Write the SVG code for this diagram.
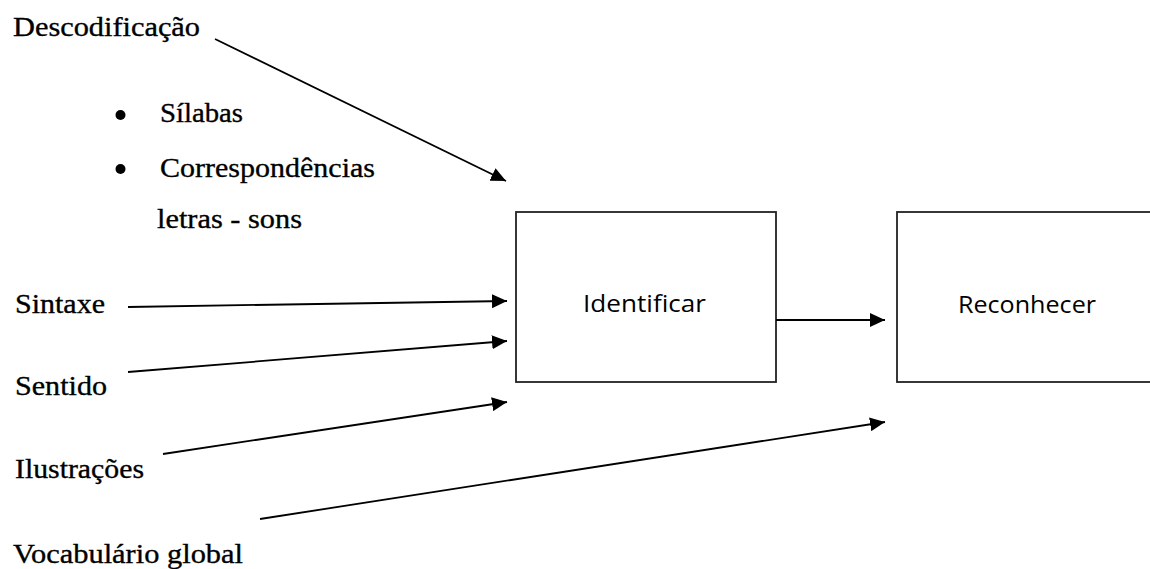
<svg xmlns="http://www.w3.org/2000/svg" width="1150" height="569" viewBox="0 0 1150 569">
  <defs>
    <marker id="arrow" markerUnits="userSpaceOnUse" markerWidth="16" markerHeight="14" refX="15" refY="7" orient="auto">
      <path d="M0,0 L15,7 L0,14 Z" fill="#000"/>
    </marker>
  </defs>
  <style>
    .lbl { font-family: "Liberation Serif", "Times New Roman", serif; font-size: 28px; fill: #000; stroke: #000; stroke-width: 0.35; }
    .box { fill: #fff; stroke: #222; stroke-width: 1.8; }
    .boxtxt { font-family: "Open Sans", "Liberation Sans", sans-serif; font-size: 23px; fill: #000; }
    .conn { stroke: #000; stroke-width: 1.8; fill: none; marker-end: url(#arrow); }
  </style>
  <rect width="1150" height="569" fill="#fff"/>

  <g id="descodificacao">
    <text class="lbl" x="13" y="36" textLength="187" lengthAdjust="spacingAndGlyphs">Descodificação</text>
    <circle cx="120.5" cy="115" r="5" fill="#000"/>
    <text class="lbl" x="160" y="122" textLength="83" lengthAdjust="spacingAndGlyphs">Sílabas</text>
    <circle cx="120.5" cy="169" r="5" fill="#000"/>
    <text class="lbl" x="160" y="177" textLength="215" lengthAdjust="spacingAndGlyphs">Correspondências</text>
    <text class="lbl" x="157" y="228" textLength="145" lengthAdjust="spacingAndGlyphs">letras - sons</text>
  </g>
  <g id="sintaxe">
    <text class="lbl" x="15" y="313" textLength="90" lengthAdjust="spacingAndGlyphs">Sintaxe</text>
  </g>
  <g id="sentido">
    <text class="lbl" x="15" y="395" textLength="92" lengthAdjust="spacingAndGlyphs">Sentido</text>
  </g>
  <g id="ilustracoes">
    <text class="lbl" x="15" y="478" textLength="129" lengthAdjust="spacingAndGlyphs">Ilustrações</text>
  </g>
  <g id="vocabulario">
    <text class="lbl" x="13" y="563" textLength="230" lengthAdjust="spacingAndGlyphs">Vocabulário global</text>
  </g>

  <g id="identificar">
    <rect class="box" x="516" y="212" width="260" height="170"/>
    <text class="boxtxt" x="583" y="312" textLength="123" lengthAdjust="spacingAndGlyphs">Identificar</text>
  </g>
  <g id="reconhecer">
    <rect class="box" x="897" y="212" width="270" height="170"/>
    <text class="boxtxt" x="958" y="313" textLength="138" lengthAdjust="spacingAndGlyphs">Reconhecer</text>
  </g>

  <g id="connectors">
    <line class="conn" x1="215" y1="39" x2="506" y2="181"/>
    <line class="conn" x1="128" y1="307" x2="507" y2="301"/>
    <line class="conn" x1="128" y1="372" x2="507" y2="341"/>
    <line class="conn" x1="163" y1="454" x2="507" y2="402"/>
    <line class="conn" x1="260" y1="519" x2="885" y2="422"/>
    <line class="conn" x1="776" y1="320" x2="885" y2="320"/>
  </g>
</svg>
